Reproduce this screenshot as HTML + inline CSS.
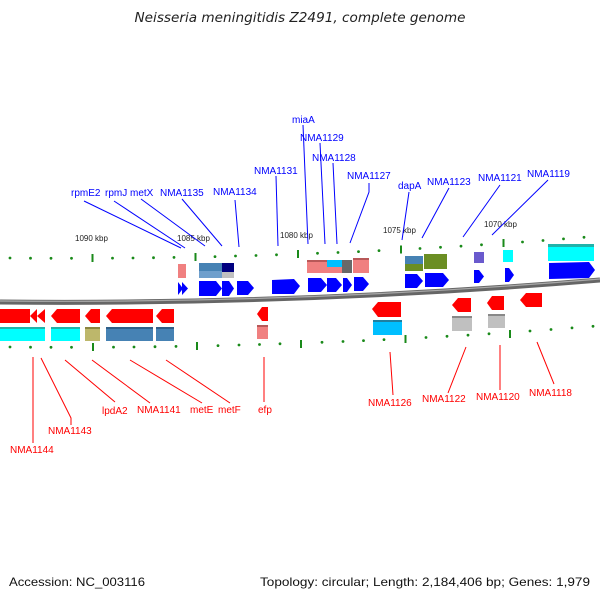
<!DOCTYPE html>
<html><head><meta charset="utf-8"><style>
html,body{margin:0;padding:0;background:#fff;width:600px;height:600px;overflow:hidden}
svg{display:block}
text{font-family:"Liberation Sans",sans-serif}
</style></head><body>
<svg width="600" height="600" viewBox="0 0 600 600" xmlns="http://www.w3.org/2000/svg">
<text x="300" y="22" text-anchor="middle" font-size="13" font-style="italic" fill="#222" textLength="331" lengthAdjust="spacingAndGlyphs" style="font-family:'DejaVu Sans',sans-serif">Neisseria meningitidis Z2491, complete genome</text>

<path d="M0 302 Q300 305 600 280" stroke="#666" stroke-width="5" fill="none"/>
<path d="M0 301 Q300 304 600 279" stroke="#aaa" stroke-width="1.2" fill="none"/>

<g fill="#1a8a1a">
<circle cx="10" cy="258" r="1.4"/><circle cx="30.5" cy="258.2" r="1.4"/><circle cx="51" cy="258.3" r="1.4"/><circle cx="71.5" cy="258.3" r="1.4"/>
<circle cx="112.5" cy="258.1" r="1.4"/><circle cx="133" cy="258" r="1.4"/><circle cx="153.5" cy="257.7" r="1.4"/><circle cx="174" cy="257.4" r="1.4"/>
<circle cx="215" cy="256.6" r="1.4"/><circle cx="235.5" cy="256" r="1.4"/><circle cx="256" cy="255.5" r="1.4"/><circle cx="276.5" cy="254.8" r="1.4"/>
<circle cx="317.5" cy="253.3" r="1.4"/><circle cx="338" cy="252.5" r="1.4"/><circle cx="358.5" cy="251.6" r="1.4"/><circle cx="379" cy="250.6" r="1.4"/>
<circle cx="420" cy="248.5" r="1.4"/><circle cx="440.5" cy="247.3" r="1.4"/><circle cx="461" cy="246.1" r="1.4"/><circle cx="481.5" cy="244.8" r="1.4"/>
<circle cx="522.5" cy="242" r="1.4"/><circle cx="543" cy="240.5" r="1.4"/><circle cx="563.5" cy="238.9" r="1.4"/><circle cx="584" cy="237.3" r="1.4"/>
</g>
<g stroke="#1a8a1a" stroke-width="2">
<line x1="92.5" y1="254" x2="92.5" y2="262"/><line x1="195.5" y1="253" x2="195.5" y2="261"/><line x1="298" y1="250" x2="298" y2="258"/><line x1="401" y1="245.5" x2="401" y2="253.5"/><line x1="503.5" y1="239" x2="503.5" y2="247"/>
</g>
<g fill="#1a8a1a">
<circle cx="10" cy="347" r="1.4"/><circle cx="30.5" cy="347.2" r="1.4"/><circle cx="51" cy="347.3" r="1.4"/><circle cx="71.5" cy="347.3" r="1.4"/>
<circle cx="113.5" cy="347.1" r="1.4"/><circle cx="134" cy="347" r="1.4"/><circle cx="155" cy="346.7" r="1.4"/><circle cx="176" cy="346.4" r="1.4"/>
<circle cx="218" cy="345.6" r="1.4"/><circle cx="239" cy="345" r="1.4"/><circle cx="259.5" cy="344.5" r="1.4"/><circle cx="280" cy="343.8" r="1.4"/>
<circle cx="322" cy="342.3" r="1.4"/><circle cx="343" cy="341.5" r="1.4"/><circle cx="363.5" cy="340.6" r="1.4"/><circle cx="384" cy="339.6" r="1.4"/>
<circle cx="426" cy="337.5" r="1.4"/><circle cx="447" cy="336.3" r="1.4"/><circle cx="468" cy="335.1" r="1.4"/><circle cx="489" cy="333.8" r="1.4"/>
<circle cx="530" cy="331" r="1.4"/><circle cx="551" cy="329.5" r="1.4"/><circle cx="572" cy="327.9" r="1.4"/><circle cx="593" cy="326.3" r="1.4"/>
</g>
<g stroke="#1a8a1a" stroke-width="2">
<line x1="93" y1="343" x2="93" y2="351"/><line x1="197" y1="342" x2="197" y2="350"/><line x1="301" y1="340" x2="301" y2="348"/><line x1="405.5" y1="335" x2="405.5" y2="343"/><line x1="510" y1="330" x2="510" y2="338"/>
</g>

<g font-size="8" fill="#222">
<text x="75" y="241">1090 kbp</text><text x="177" y="241">1085 kbp</text><text x="280" y="238">1080 kbp</text><text x="383" y="233">1075 kbp</text><text x="484" y="227">1070 kbp</text>
</g>

<rect x="178" y="264" width="8" height="14" fill="#f08080"/>
<rect x="199" y="263" width="23" height="15" fill="#4682b4"/><rect x="199" y="271" width="23" height="7" fill="#6f9fcc"/>
<rect x="222" y="263" width="12" height="9" fill="#000080"/><rect x="222" y="272" width="12" height="6" fill="#c0c0c0"/>
<rect x="307" y="260" width="20" height="13" fill="#f08080"/><rect x="307" y="260" width="20" height="2" fill="#b85858"/>
<rect x="327" y="260" width="15" height="7" fill="#00bfff"/><rect x="327" y="267" width="15" height="6" fill="#f08080"/>
<rect x="342" y="260" width="10" height="13" fill="#696969"/>
<rect x="353" y="258" width="16" height="15" fill="#f08080"/><rect x="353" y="258" width="16" height="2" fill="#b85858"/>
<rect x="405" y="256" width="18" height="8" fill="#4682b4"/><rect x="405" y="264" width="18" height="7" fill="#6b8e23"/>
<rect x="424" y="254" width="23" height="15" fill="#6b8e23"/>
<rect x="474" y="252" width="10" height="11" fill="#6a5acd"/>
<rect x="503" y="250" width="10" height="12" fill="#00ffff"/>
<rect x="548" y="244" width="46" height="17" fill="#00ffff"/><rect x="548" y="244" width="46" height="3" fill="#20b2aa"/>

<g fill="#0000ff">
<polygon points="178,282 183,288.5 178,295"/><polygon points="182,282 188,288.5 182,295"/>
<polygon points="199,281 216,281 222,288.5 216,296 199,296"/>
<polygon points="222,281 229,281 234,288.5 229,296 222,296"/>
<polygon points="237,281 248,281 254,288 248,295 237,295"/>
<polygon points="272,280 294,279 300,286 294,294 272,294"/>
<polygon points="308,278 321,278 327,285 321,292 308,292"/>
<polygon points="327,278 336,278 342,285 336,292 327,292"/>
<polygon points="343,278 347,278 352,285 347,292 343,292"/>
<polygon points="354,277 363,277 369,284 363,291 354,291"/>
<polygon points="405,274 417,274 423,281 417,288 405,288"/>
<polygon points="425,273 443,273 449,280 443,287 425,287"/>
<polygon points="474,270 479,270 484,276.5 479,283 474,283"/>
<polygon points="505,268 509,268 514,275 509,282 505,282"/>
<polygon points="549,263 589,262 595,270 589,278 549,279"/>
</g>

<g fill="#ff0000">
<rect x="0" y="309" width="30" height="14"/>
<polygon points="30,316 37,309 37,323"/><polygon points="37,316 45,309 45,323"/>
<polygon points="51,316 57,309 80,309 80,323 57,323"/>
<polygon points="85,316 91,309 100,309 100,323 91,323"/>
<polygon points="106,316 112,309 153,309 153,323 112,323"/>
<polygon points="156,316 162,309 174,309 174,323 162,323"/>
<polygon points="257,314 262,307 268,307 268,321 262,321"/>
<polygon points="372,309 378,302 401,302 401,317 378,317"/>
<polygon points="452,305 458,298 471,298 471,312 458,312"/>
<polygon points="487,303 492,296 504,296 504,310 492,310"/>
<polygon points="520,300 526,293 542,293 542,307 526,307"/>
</g>

<rect x="0" y="327" width="45" height="14" fill="#00ffff"/><rect x="0" y="327" width="45" height="2" fill="#20b2aa"/>
<rect x="51" y="327" width="29" height="14" fill="#00ffff"/><rect x="51" y="327" width="29" height="2" fill="#20b2aa"/>
<rect x="85" y="327" width="15" height="14" fill="#bdb76b"/><rect x="85" y="327" width="15" height="2" fill="#8b8640"/>
<rect x="106" y="327" width="47" height="14" fill="#4682b4"/><rect x="106" y="327" width="47" height="2" fill="#2f5f88"/>
<rect x="156" y="327" width="18" height="14" fill="#4682b4"/><rect x="156" y="327" width="18" height="2" fill="#2f5f88"/>
<rect x="257" y="325" width="11" height="14" fill="#f08080"/><rect x="257" y="325" width="11" height="2" fill="#b85858"/>
<rect x="373" y="320" width="29" height="15" fill="#00bfff"/><rect x="373" y="320" width="29" height="2" fill="#1f7fa0"/>
<rect x="452" y="316" width="20" height="15" fill="#c0c0c0"/><rect x="452" y="316" width="20" height="2" fill="#888"/>
<rect x="488" y="314" width="17" height="14" fill="#c0c0c0"/><rect x="488" y="314" width="17" height="2" fill="#888"/>

<g stroke="#0000ff" stroke-width="1" fill="none">
<line x1="84" y1="201" x2="181" y2="248"/><line x1="114" y1="201" x2="185" y2="248"/>
<line x1="141" y1="199" x2="205" y2="246"/><line x1="182" y1="199" x2="222" y2="246"/>
<line x1="235" y1="200" x2="239" y2="247"/><line x1="276" y1="176" x2="278" y2="246"/>
<line x1="303" y1="125" x2="308" y2="244"/><line x1="320" y1="143" x2="325" y2="244"/>
<line x1="333" y1="163" x2="337" y2="244"/><polyline points="369,183 369,192 350,243"/>
<line x1="409" y1="192" x2="402" y2="240"/><line x1="449" y1="188" x2="422" y2="238"/>
<line x1="500" y1="185" x2="463" y2="237"/><line x1="548" y1="180" x2="492" y2="235"/>
</g>
<g font-size="10" fill="#0000ff">
<text x="71" y="196">rpmE2</text><text x="105" y="196">rpmJ</text><text x="130" y="196">metX</text>
<text x="160" y="196">NMA1135</text><text x="213" y="195">NMA1134</text><text x="254" y="174">NMA1131</text>
<text x="292" y="123">miaA</text><text x="300" y="141">NMA1129</text><text x="312" y="161">NMA1128</text>
<text x="347" y="179">NMA1127</text><text x="398" y="189">dapA</text><text x="427" y="185">NMA1123</text>
<text x="478" y="181">NMA1121</text><text x="527" y="177">NMA1119</text>
</g>

<g stroke="#ff0000" stroke-width="1" fill="none">
<line x1="33" y1="357" x2="33" y2="443"/><polyline points="41,358 71,418 71,425"/>
<line x1="65" y1="360" x2="115" y2="402"/><line x1="92" y1="360" x2="150" y2="403"/>
<line x1="130" y1="360" x2="202" y2="403"/><line x1="166" y1="360" x2="230" y2="403"/>
<line x1="264" y1="357" x2="264" y2="402"/><line x1="390" y1="352" x2="393" y2="395"/>
<line x1="466" y1="347" x2="448" y2="393"/><line x1="500" y1="345" x2="500" y2="390"/>
<line x1="537" y1="342" x2="554" y2="384"/>
</g>
<g font-size="10" fill="#ff0000">
<text x="10" y="453">NMA1144</text><text x="48" y="434">NMA1143</text><text x="102" y="414">lpdA2</text>
<text x="137" y="413">NMA1141</text><text x="190" y="413">metE</text><text x="218" y="413">metF</text>
<text x="258" y="413">efp</text><text x="368" y="406">NMA1126</text><text x="422" y="402">NMA1122</text>
<text x="476" y="400">NMA1120</text><text x="529" y="396">NMA1118</text>
</g>

<g font-size="12" fill="#111">
<text x="9" y="586" textLength="136" lengthAdjust="spacingAndGlyphs">Accession: NC_003116</text>
<text x="260" y="586" textLength="330" lengthAdjust="spacingAndGlyphs">Topology: circular; Length: 2,184,406 bp; Genes: 1,979</text>
</g>
</svg>
</body></html>
